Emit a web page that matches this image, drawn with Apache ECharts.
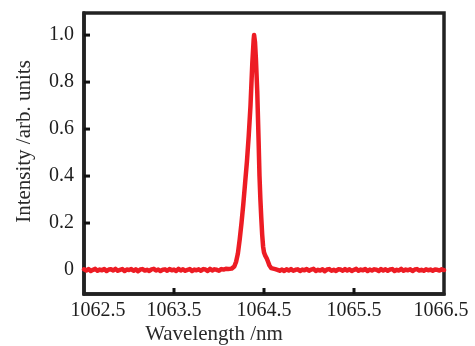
<!DOCTYPE html>
<html>
<head>
<meta charset="utf-8">
<script src="https://cdn.jsdelivr.net/npm/echarts@6/dist/echarts.min.js"></script>
<style>html,body{margin:0;padding:0;background:#fff}#c{width:475px;height:346px}</style>
</head>
<body>
<div id="c"></div>
<script>
// Wavelength (nm) samples
var wavelength = [
  1062.500,1062.525,1062.550,1062.575,1062.600,1062.625,1062.650,1062.675,1062.700,1062.725,
  1062.750,1062.775,1062.800,1062.825,1062.850,1062.875,1062.900,1062.925,1062.950,1062.975,
  1063.000,1063.025,1063.050,1063.075,1063.100,1063.125,1063.150,1063.175,1063.200,1063.225,
  1063.250,1063.275,1063.300,1063.325,1063.350,1063.375,1063.400,1063.425,1063.450,1063.475,
  1063.500,1063.525,1063.550,1063.575,1063.600,1063.625,1063.650,1063.675,1063.700,1063.725,
  1063.750,1063.775,1063.800,1063.825,1063.850,1063.875,1063.900,1063.925,1063.950,1063.975,
  1064.000,1064.025,1064.050,1064.075,1064.100,
  1064.14,1064.17,1064.19,1064.21,1064.23,1064.25,1064.27,1064.29,1064.31,1064.33,
  1064.35,1064.37,1064.385,1064.39,1064.40,1064.41,1064.425,1064.44,1064.45,1064.46,
  1064.47,1064.48,1064.49,1064.50,1064.515,1064.53,1064.545,1064.56,1064.58,1064.60,
  1064.625,1064.650,1064.675,1064.700,1064.725,1064.750,1064.775,1064.800,1064.825,1064.850,
  1064.875,1064.900,1064.925,1064.950,1064.975,1065.000,1065.025,1065.050,1065.075,1065.100,
  1065.125,1065.150,1065.175,1065.200,1065.225,1065.250,1065.275,1065.300,1065.325,1065.350,
  1065.375,1065.400,1065.425,1065.450,1065.475,1065.500,1065.525,1065.550,1065.575,1065.600,
  1065.625,1065.650,1065.675,1065.700,1065.725,1065.750,1065.775,1065.800,1065.825,1065.850,
  1065.875,1065.900,1065.925,1065.950,1065.975,1066.000,1066.025,1066.050,1066.075,1066.100,
  1066.125,1066.150,1066.175,1066.200,1066.225,1066.250,1066.275,1066.300,1066.325,1066.350,
  1066.375,1066.400,1066.425,1066.450,1066.475,1066.500
];
// Normalized intensity (arb. units)
var intensity = [
  0.003,-0.002,0.004,-0.004,0.001,0.005,-0.003,0.002,-0.001,0.004,
  -0.004,0.002,0.003,-0.002,0.005,-0.003,0.001,0.004,-0.004,0.002,
  0.000,0.004,-0.003,0.003,-0.005,0.002,0.004,-0.002,0.001,-0.004,
  0.003,0.005,-0.002,0.002,-0.004,0.001,0.003,-0.003,0.004,-0.001,
  0.002,-0.004,0.005,-0.002,0.003,-0.003,0.001,0.004,-0.004,0.002,
  -0.001,0.003,-0.003,0.004,0.002,-0.004,0.005,-0.002,0.003,0.001,
  -0.003,0.004,0.002,0.005,0.004,
  0.006,0.015,0.035,0.07,0.13,0.20,0.28,0.37,0.46,0.57,
  0.70,0.88,0.98,1.00,0.97,0.90,0.76,0.55,0.40,0.30,
  0.22,0.15,0.10,0.075,0.06,0.05,0.035,0.02,0.008,0.000,
  0.004,0.001,-0.003,0.002,-0.004,0.003,-0.002,0.004,-0.003,0.001,
  0.003,-0.004,0.002,-0.001,0.004,-0.003,0.002,0.005,-0.004,0.001,
  -0.002,0.003,-0.005,0.002,0.004,-0.003,0.001,-0.004,0.003,0.002,
  -0.003,0.004,-0.002,0.003,-0.004,0.001,0.005,-0.003,0.002,-0.001,
  0.004,-0.004,0.002,-0.002,0.003,0.001,-0.004,0.004,-0.002,0.003,
  -0.003,0.002,0.004,-0.004,0.001,-0.002,0.005,-0.003,0.002,-0.001,
  0.003,-0.004,0.002,0.004,-0.002,0.001,-0.003,0.003,-0.001,0.002,
  -0.003,0.002,0.001,-0.002,0.003,0.000
];
var xTicks = [1062.5, 1063.5, 1064.5, 1065.5, 1066.5];
var xInnerTicks = [1063.5, 1064.5, 1065.5];
var yTicks = [0, 0.2, 0.4, 0.6, 0.8, 1.0];
var xMin = 1062.5, xMax = 1066.5, yMin = -0.102, yMax = 1.094;

var pts = wavelength.map(function (w, i) { return [w, intensity[i]]; });
var chart = echarts.init(document.getElementById('c'), null, {renderer: 'canvas'});
var tickFont = {fontFamily: 'Liberation Serif', fontSize: 20, color: '#1e1e1e'};
var nameFont = {fontFamily: 'Liberation Serif', fontSize: 21, color: '#2a2a2a'};
var frame = {color: '#222', width: 3.5};
var TICK_LEN = 6;
function tickSeries(data, vertical) {
  return {
    type: 'custom', coordinateSystem: 'cartesian2d', silent: true, clip: false, z: 1,
    data: data,
    renderItem: function (params, api) {
      var p = api.coord([api.value(0), api.value(1)]);
      var shape = vertical
        ? {x1: p[0], y1: p[1], x2: p[0], y2: p[1] - TICK_LEN}
        : {x1: p[0], y1: p[1], x2: p[0] + TICK_LEN, y2: p[1]};
      return {type: 'line', shape: shape, style: {stroke: '#111', lineWidth: 3}};
    }
  };
}
chart.setOption({
  animation: false,
  grid: {left: 84, right: 31, top: 13, bottom: 52, containLabel: false, outerBoundsMode: 'none',
         show: true, borderColor: '#222', borderWidth: 3.5, backgroundColor: 'transparent'},
  xAxis: {
    type: 'value', min: xMin, max: xMax,
    name: 'Wavelength /nm', nameLocation: 'middle', nameGap: 30, nameMoveOverlap: false,
    nameTextStyle: Object.assign({padding: [0, 100, 0, 0]}, nameFont),
    axisLine: {show: true, onZero: false, lineStyle: frame}, splitLine: {show: false},
    axisTick: {show: false},
    axisLabel: Object.assign({
      customValues: xTicks, margin: 7,
      formatter: function (v) {
        var s = v.toFixed(1);
        if (Math.abs(v - 1062.5) < 1e-6) return '{l|' + s + '}';
        if (Math.abs(v - 1066.5) < 1e-6) return '{r|' + s + '}';
        return s;
      },
      rich: {
        l: Object.assign({padding: [0, 0, 0, 28]}, tickFont),
        r: Object.assign({padding: [0, 6, 0, 0]}, tickFont)
      }
    }, tickFont)
  },
  yAxis: {
    type: 'value', min: yMin, max: yMax,
    name: 'Intensity /arb. units', nameLocation: 'middle', nameGap: 49, nameMoveOverlap: false,
    nameTextStyle: Object.assign({padding: [0, 0, 0, 24]}, nameFont),
    axisLine: {show: true, onZero: false, lineStyle: frame}, splitLine: {show: false},
    axisTick: {show: false},
    axisLabel: Object.assign({
      customValues: yTicks, margin: 10,
      formatter: function (v) { return v === 0 ? '0' : v.toFixed(1); }
    }, tickFont)
  },
  series: [
    tickSeries(xInnerTicks.map(function (v) { return [v, yMin]; }), true),
    tickSeries(yTicks.map(function (v) { return [xMin, v]; }), false),
    {
      type: 'line', data: pts, showSymbol: false, clip: true, z: 2,
      lineStyle: {color: '#ed1c24', width: 4.5, join: 'round', cap: 'round'}
    }
  ]
});
</script>
</body>
</html>
